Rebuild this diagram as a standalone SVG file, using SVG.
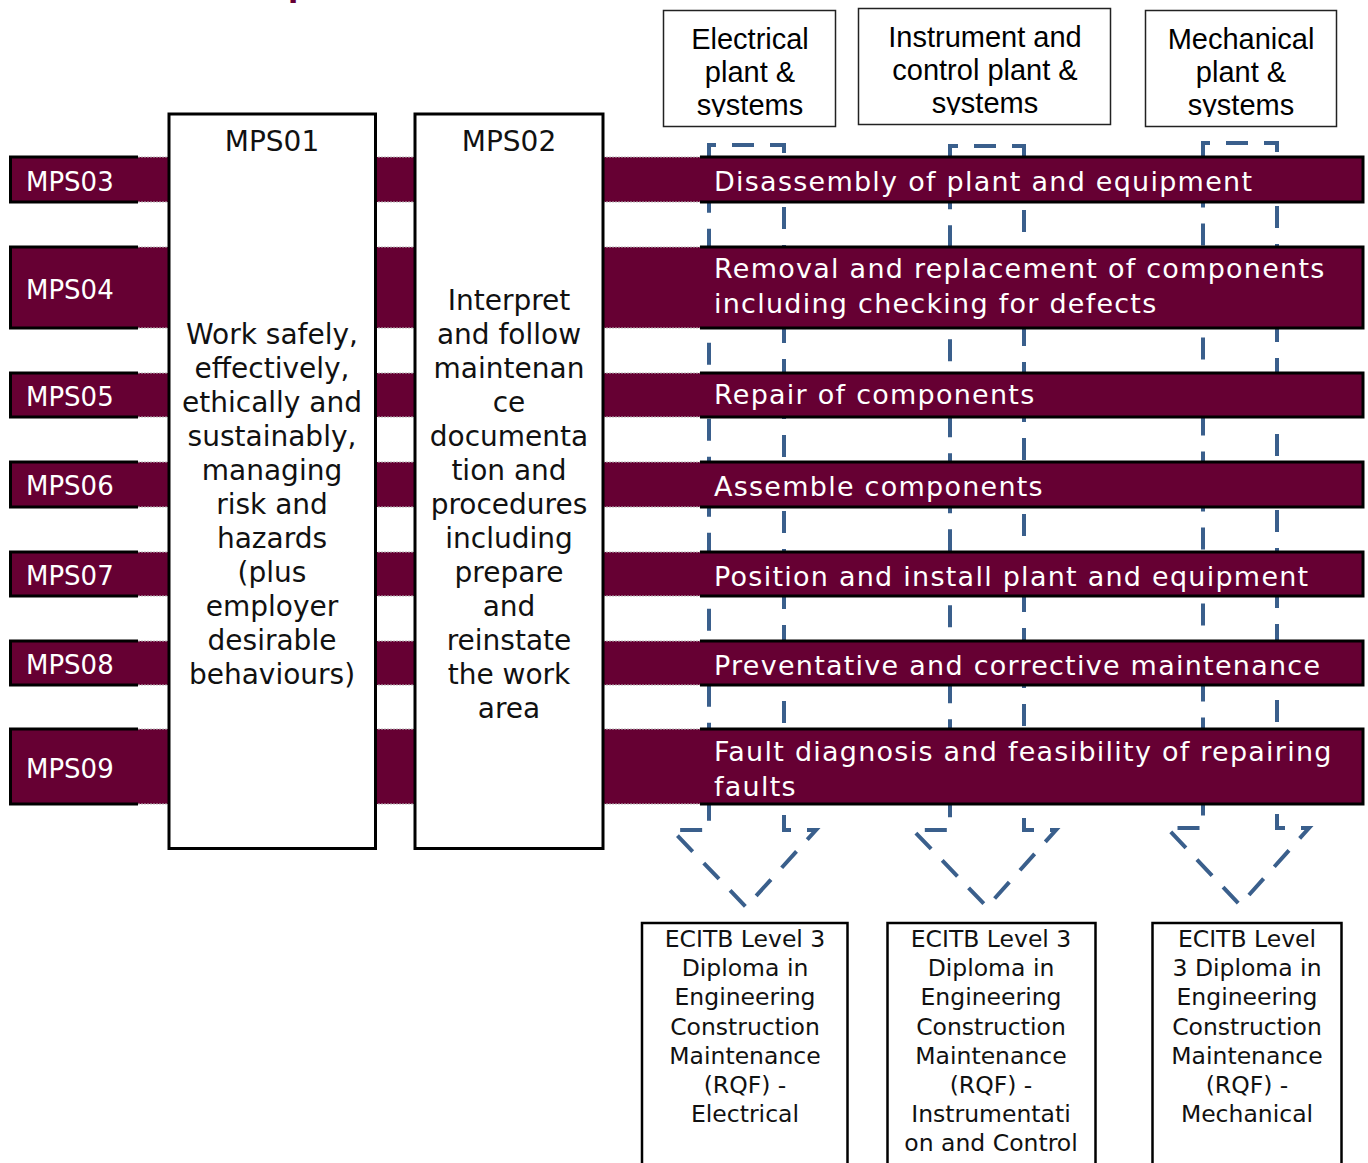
<svg xmlns="http://www.w3.org/2000/svg" width="1368" height="1163" viewBox="0 0 1368 1163">
<style>
.bar{fill:#660033}
.blk{fill:none;stroke:#000;stroke-width:3}
.dot{stroke:#b8b8b8;stroke-width:1;stroke-dasharray:2 1}
.lbl{font-family:"DejaVu Sans",Verdana,sans-serif;font-size:26px;fill:#fff}
.bt{font-family:"DejaVu Sans",Verdana,sans-serif;font-size:27px;fill:#fff;letter-spacing:1.25px}
.box{fill:#fff;stroke:#000;stroke-width:3}
.bx{font-family:"DejaVu Sans",Verdana,sans-serif;font-size:28px;fill:#111;text-anchor:middle}
.top{fill:#fff;stroke:#222;stroke-width:1.5}
.tt{font-family:"Liberation Sans",Arial,sans-serif;font-size:29px;fill:#000;text-anchor:middle}
.bot{fill:#fff;stroke:#000;stroke-width:2.5}
.bb{font-family:"DejaVu Sans",Verdana,sans-serif;font-size:23.5px;fill:#111;text-anchor:middle}
.arr{fill:none;stroke:#3A5F8C;stroke-width:4;stroke-dasharray:22 16}
</style>
<defs>
<clipPath id="c1"><rect x="664" y="11" width="171" height="106"/></clipPath>
<clipPath id="c2"><rect x="859" y="9" width="251" height="106"/></clipPath>
<clipPath id="c3"><rect x="1146" y="11" width="190" height="106"/></clipPath>
</defs>
<rect width="1368" height="1163" fill="#fff"/>
<text x="288" y="-3" style="font-family:'DejaVu Sans',sans-serif;font-size:30px;font-weight:bold;fill:#660033">p</text>

<g id="connectors">
<path class="arr" d="M709,160 V145 H784 V830 H816 L746,907 L672,830 H709 Z"/>
<path class="arr" d="M950,160 V146 H1024 V830 H1056 L987,907 L913,830 H950 Z"/>
<path class="arr" d="M1203,158 V143 H1277 V828 H1309 L1240,905 L1167,828 H1203 Z"/>
</g>

<g id="rows">
<g id="row-mps03">
<rect class="bar" x="9" y="157" width="1355" height="45"/>
<path class="blk" d="M138,157 H10.5 V202 H138"/>
<path class="blk" d="M700,157 H1363 V202 H700"/>
<line class="dot" x1="138" y1="157" x2="700" y2="157"/><line class="dot" x1="138" y1="202" x2="700" y2="202"/>
<text class="lbl" x="26" y="191">MPS03</text>
<text class="bt" x="714" y="191">Disassembly of plant and equipment</text>
</g>
<g id="row-mps04">
<rect class="bar" x="9" y="247" width="1355" height="81"/>
<path class="blk" d="M138,247 H10.5 V328 H138"/>
<path class="blk" d="M700,247 H1363 V328 H700"/>
<line class="dot" x1="138" y1="247" x2="700" y2="247"/><line class="dot" x1="138" y1="328" x2="700" y2="328"/>
<text class="lbl" x="26" y="299">MPS04</text>
<text class="bt" x="714" y="278">Removal and replacement of components</text>
<text class="bt" x="714" y="313">including checking for defects</text>
</g>
<g id="row-mps05">
<rect class="bar" x="9" y="373" width="1355" height="44"/>
<path class="blk" d="M138,373 H10.5 V417 H138"/>
<path class="blk" d="M700,373 H1363 V417 H700"/>
<line class="dot" x1="138" y1="373" x2="700" y2="373"/><line class="dot" x1="138" y1="417" x2="700" y2="417"/>
<text class="lbl" x="26" y="406">MPS05</text>
<text class="bt" x="714" y="404">Repair of components</text>
</g>
<g id="row-mps06">
<rect class="bar" x="9" y="462" width="1355" height="45"/>
<path class="blk" d="M138,462 H10.5 V507 H138"/>
<path class="blk" d="M700,462 H1363 V507 H700"/>
<line class="dot" x1="138" y1="462" x2="700" y2="462"/><line class="dot" x1="138" y1="507" x2="700" y2="507"/>
<text class="lbl" x="26" y="495">MPS06</text>
<text class="bt" x="714" y="496">Assemble components</text>
</g>
<g id="row-mps07">
<rect class="bar" x="9" y="552" width="1355" height="44"/>
<path class="blk" d="M138,552 H10.5 V596 H138"/>
<path class="blk" d="M700,552 H1363 V596 H700"/>
<line class="dot" x1="138" y1="552" x2="700" y2="552"/><line class="dot" x1="138" y1="596" x2="700" y2="596"/>
<text class="lbl" x="26" y="585">MPS07</text>
<text class="bt" x="714" y="586">Position and install plant and equipment</text>
</g>
<g id="row-mps08">
<rect class="bar" x="9" y="641" width="1355" height="44"/>
<path class="blk" d="M138,641 H10.5 V685 H138"/>
<path class="blk" d="M700,641 H1363 V685 H700"/>
<line class="dot" x1="138" y1="641" x2="700" y2="641"/><line class="dot" x1="138" y1="685" x2="700" y2="685"/>
<text class="lbl" x="26" y="674">MPS08</text>
<text class="bt" x="714" y="675">Preventative and corrective maintenance</text>
</g>
<g id="row-mps09">
<rect class="bar" x="9" y="729" width="1355" height="75"/>
<path class="blk" d="M138,729 H10.5 V804 H138"/>
<path class="blk" d="M700,729 H1363 V804 H700"/>
<line class="dot" x1="138" y1="729" x2="700" y2="729"/><line class="dot" x1="138" y1="804" x2="700" y2="804"/>
<text class="lbl" x="26" y="778">MPS09</text>
<text class="bt" x="714" y="761">Fault diagnosis and feasibility of repairing</text>
<text class="bt" x="714" y="796">faults</text>
</g>
</g>

<g id="mps01">
<rect class="box" x="169" y="114" width="206.5" height="734.5"/>
<text class="bx" x="272" y="151">MPS01</text>
<text class="bx" x="272" y="344">Work safely,</text>
<text class="bx" x="272" y="378">effectively,</text>
<text class="bx" x="272" y="412">ethically and</text>
<text class="bx" x="272" y="446">sustainably,</text>
<text class="bx" x="272" y="480">managing</text>
<text class="bx" x="272" y="514">risk and</text>
<text class="bx" x="272" y="548">hazards</text>
<text class="bx" x="272" y="582">(plus</text>
<text class="bx" x="272" y="616">employer</text>
<text class="bx" x="272" y="650">desirable</text>
<text class="bx" x="272" y="684">behaviours)</text>
</g>

<g id="mps02">
<rect class="box" x="415" y="114" width="188" height="734.5"/>
<text class="bx" x="509" y="151">MPS02</text>
<text class="bx" x="509" y="310">Interpret</text>
<text class="bx" x="509" y="344">and follow</text>
<text class="bx" x="509" y="378">maintenan</text>
<text class="bx" x="509" y="412">ce</text>
<text class="bx" x="509" y="446">documenta</text>
<text class="bx" x="509" y="480">tion and</text>
<text class="bx" x="509" y="514">procedures</text>
<text class="bx" x="509" y="548">including</text>
<text class="bx" x="509" y="582">prepare</text>
<text class="bx" x="509" y="616">and</text>
<text class="bx" x="509" y="650">reinstate</text>
<text class="bx" x="509" y="684">the work</text>
<text class="bx" x="509" y="718">area</text>
</g>

<g id="electrical">
<rect class="top" x="663.5" y="10.5" width="172" height="116"/>
<g clip-path="url(#c1)">
<text class="tt" x="750" y="49">Electrical</text>
<text class="tt" x="750" y="82">plant &amp;</text>
<text class="tt" x="750" y="115">systems</text>
</g>
</g>
<g id="instrument">
<rect class="top" x="858.5" y="8.5" width="252" height="116"/>
<g clip-path="url(#c2)">
<text class="tt" x="985" y="47">Instrument and</text>
<text class="tt" x="985" y="80">control plant &amp;</text>
<text class="tt" x="985" y="113">systems</text>
</g>
</g>
<g id="mechanical">
<rect class="top" x="1145.5" y="10.5" width="191" height="116"/>
<g clip-path="url(#c3)">
<text class="tt" x="1241" y="49">Mechanical</text>
<text class="tt" x="1241" y="82">plant &amp;</text>
<text class="tt" x="1241" y="115">systems</text>
</g>
</g>

<g id="diploma-electrical">
<rect class="bot" x="642" y="923" width="205.5" height="260"/>
<text class="bb" x="745" y="947">ECITB Level 3</text>
<text class="bb" x="745" y="976">Diploma in</text>
<text class="bb" x="745" y="1005">Engineering</text>
<text class="bb" x="745" y="1035">Construction</text>
<text class="bb" x="745" y="1064">Maintenance</text>
<text class="bb" x="745" y="1093">(RQF) -</text>
<text class="bb" x="745" y="1122">Electrical</text>
</g>
<g id="diploma-ic">
<rect class="bot" x="887.5" y="923" width="208" height="260"/>
<text class="bb" x="991" y="947">ECITB Level 3</text>
<text class="bb" x="991" y="976">Diploma in</text>
<text class="bb" x="991" y="1005">Engineering</text>
<text class="bb" x="991" y="1035">Construction</text>
<text class="bb" x="991" y="1064">Maintenance</text>
<text class="bb" x="991" y="1093">(RQF) -</text>
<text class="bb" x="991" y="1122">Instrumentati</text>
<text class="bb" x="991" y="1151">on and Control</text>
</g>
<g id="diploma-mechanical">
<rect class="bot" x="1152.5" y="923" width="189" height="260"/>
<text class="bb" x="1247" y="947">ECITB Level</text>
<text class="bb" x="1247" y="976">3 Diploma in</text>
<text class="bb" x="1247" y="1005">Engineering</text>
<text class="bb" x="1247" y="1035">Construction</text>
<text class="bb" x="1247" y="1064">Maintenance</text>
<text class="bb" x="1247" y="1093">(RQF) -</text>
<text class="bb" x="1247" y="1122">Mechanical</text>
</g>
</svg>
